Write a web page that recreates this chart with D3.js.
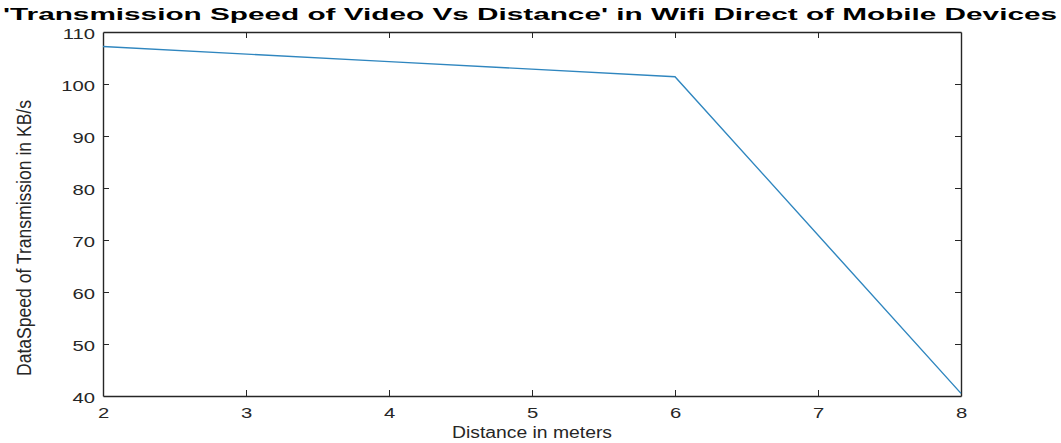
<!DOCTYPE html>
<html>
<head>
<meta charset="utf-8">
<script src="https://cdn.jsdelivr.net/npm/d3@7"></script>
<style>
  html, body { margin: 0; padding: 0; background: #fff; }
  svg { display: block; }
</style>
</head>
<body>
<svg id="chart" width="1061" height="443"></svg>
<script>
// Distance (m) against measured transfer speed (KB/s)
const distance = [2, 4, 6, 8];
const speed = [107.2, 104.3, 101.4, 40.5];
const xTicks = [2, 3, 4, 5, 6, 7, 8];
const yTicks = [40, 50, 60, 70, 80, 90, 100, 110];

const titleText = "'Transmission Speed of Video Vs Distance' in Wifi Direct of Mobile Devices";
const xLabel = "Distance in meters";
const yLabel = "DataSpeed of Transmission in KB/s";

const plot = { left: 103, right: 961, top: 32, bottom: 396 };
const font = "'Liberation Sans', Arial, sans-serif";

const svg = d3.select("#chart");

const x = d3.scaleLinear().domain([2, 8]).range([plot.left, plot.right]);
const y = d3.scaleLinear().domain([40, 110]).range([plot.bottom, plot.top]);

const axisColor = "#262626";
const tickLen = 6;

// widen a text element horizontally by a factor
function widen(sel, k) {
  sel.each(function () {
    const w = this.getComputedTextLength();
    d3.select(this).attr("textLength", w * k).attr("lengthAdjust", "spacingAndGlyphs");
  });
}

// Axes with inward ticks on all four sides (boxed frame)
const fmt = d3.format("d");
const axBottom = svg.append("g").attr("transform", `translate(0,${plot.bottom})`)
  .call(d3.axisBottom(x).tickValues(xTicks).tickFormat(fmt).tickSizeInner(-tickLen).tickSizeOuter(0).tickPadding(11));
const axTop = svg.append("g").attr("transform", `translate(0,${plot.top})`)
  .call(d3.axisTop(x).tickValues(xTicks).tickFormat("").tickSizeInner(-tickLen).tickSizeOuter(0));
const axLeft = svg.append("g").attr("transform", `translate(${plot.left},0)`)
  .call(d3.axisLeft(y).tickValues(yTicks).tickFormat(fmt).tickSizeInner(-tickLen).tickSizeOuter(0).tickPadding(8));
const axRight = svg.append("g").attr("transform", `translate(${plot.right},0)`)
  .call(d3.axisRight(y).tickValues(yTicks).tickFormat("").tickSizeInner(-tickLen).tickSizeOuter(0));

[axBottom, axTop, axLeft, axRight].forEach(g => {
  g.select(".domain").attr("stroke", axisColor).attr("stroke-width", 1.4);
  g.selectAll(".tick line").attr("stroke", axisColor).attr("stroke-width", 1);
  g.selectAll(".tick text")
    .attr("fill", axisColor)
    .style("font-family", font)
    .style("font-size", "15px");
});
widen(axBottom.selectAll(".tick text"), 1.35);
widen(axLeft.selectAll(".tick text"), 1.35);
// y tick labels sit a touch below their ticks
axLeft.selectAll(".tick text").attr("dy", "0.42em");

// drop the inward ticks that would sit on the frame corners
axBottom.selectAll(".tick").filter(d => d === 2 || d === 8).select("line").remove();
axTop.selectAll(".tick").filter(d => d === 2 || d === 8).select("line").remove();
axLeft.selectAll(".tick").filter(d => d === 40 || d === 110).select("line").remove();
axRight.selectAll(".tick").filter(d => d === 40 || d === 110).select("line").remove();

// Data line
const line = d3.line().x((d, i) => x(distance[i])).y(d => y(d));
svg.append("path")
  .datum(speed)
  .attr("fill", "none")
  .attr("stroke", "#2f86bf")
  .attr("stroke-width", 1.4)
  .attr("d", line);

// Title
svg.append("text")
  .attr("x", 530).attr("y", 20)
  .attr("text-anchor", "middle")
  .style("font-family", font)
  .style("font-weight", "bold")
  .style("font-size", "17px")
  .attr("fill", "#000")
  .attr("textLength", 1054)
  .attr("lengthAdjust", "spacingAndGlyphs")
  .text(titleText);

// X axis label
svg.append("text")
  .attr("x", 532).attr("y", 438)
  .attr("text-anchor", "middle")
  .style("font-family", font)
  .style("font-size", "16px")
  .attr("fill", axisColor)
  .attr("textLength", 160)
  .attr("lengthAdjust", "spacingAndGlyphs")
  .text(xLabel);

// Y axis label, rotated and condensed along its length
svg.append("text")
  .attr("transform", `translate(31,238) rotate(-90)`)
  .attr("text-anchor", "middle")
  .style("font-family", font)
  .style("font-size", "21px")
  .attr("fill", axisColor)
  .attr("textLength", 276)
  .attr("lengthAdjust", "spacingAndGlyphs")
  .text(yLabel);
</script>
</body>
</html>
